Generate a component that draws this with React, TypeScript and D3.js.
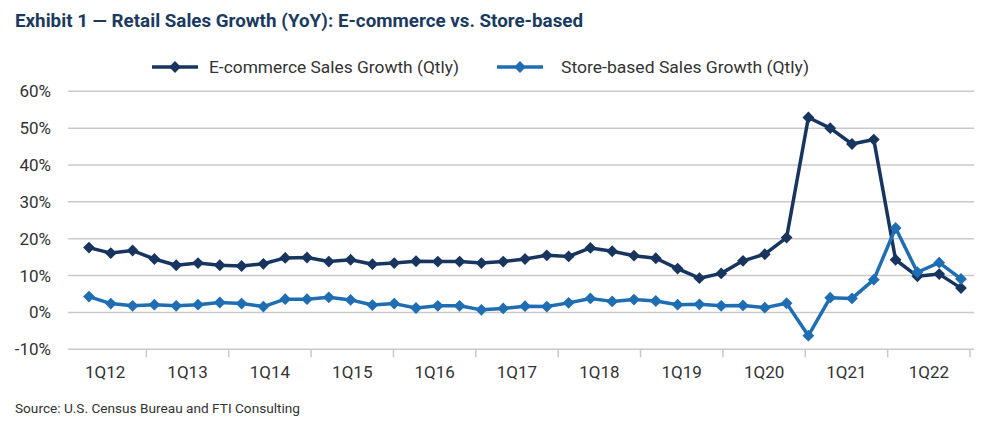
import React from 'react';
import * as d3 from 'd3';

const quarters = [
  '1Q12', '2Q12', '3Q12', '4Q12', '1Q13', '2Q13', '3Q13', '4Q13', '1Q14', '2Q14',
  '3Q14', '4Q14', '1Q15', '2Q15', '3Q15', '4Q15', '1Q16', '2Q16', '3Q16', '4Q16',
  '1Q17', '2Q17', '3Q17', '4Q17', '1Q18', '2Q18', '3Q18', '4Q18', '1Q19', '2Q19',
  '3Q19', '4Q19', '1Q20', '2Q20', '3Q20', '4Q20', '1Q21', '2Q21', '3Q21', '4Q21',
  '1Q22',
];

const ecommerce = [
  17.6, 16.1, 16.8, 14.5, 12.8, 13.4, 12.8, 12.6, 13.2, 14.8,
  14.9, 13.8, 14.3, 13.1, 13.4, 13.9, 13.8, 13.8, 13.4, 13.8,
  14.5, 15.5, 15.2, 17.5, 16.6, 15.4, 14.7, 11.9, 9.3, 10.6,
  14.0, 15.8, 20.3, 52.9, 50.0, 45.7, 46.9, 14.3, 9.8, 10.4,
  6.6,
];

const storeBased = [
  4.3, 2.4, 1.8, 2.1, 1.8, 2.1, 2.7, 2.4, 1.6, 3.6,
  3.6, 4.1, 3.4, 2.0, 2.4, 1.2, 1.8, 1.8, 0.7, 1.1,
  1.7, 1.6, 2.6, 3.8, 3.0, 3.5, 3.1, 2.1, 2.2, 1.8,
  1.9, 1.3, 2.5, -6.3, 4.0, 3.8, 8.9, 22.9, 10.9, 13.5,
  9.1,
];

const yearLabels = ['1Q12', '1Q13', '1Q14', '1Q15', '1Q16', '1Q17', '1Q18', '1Q19', '1Q20', '1Q21', '1Q22'];
const yTicks = [-10, 0, 10, 20, 30, 40, 50, 60];

const seriesNames = ['E-commerce Sales Growth (Qtly)', 'Store-based Sales Growth (Qtly)'];
const seriesColors = ['#17355f', '#1f6db3'];

const FONT = 'Roboto, "Open Sans", sans-serif';

export default function App() {
  const W = 1000;
  const H = 434;
  const gridLeft = 68;
  const gridRight = 974;

  const y = d3.scaleLinear().domain([-10, 60]).range([349.3, 91.3]);
  const xPts = d3.scalePoint<string>().domain(quarters).range([89, 961]);
  const xBand = d3.scaleBand<string>().domain(yearLabels).range([64, 970]).paddingInner(0).paddingOuter(0);

  const line = d3
    .line<number>()
    .x((_, i) => xPts(quarters[i]) as number)
    .y((d) => y(d));

  const diamond = d3.symbol().type(d3.symbolSquare).size(70)();

  const series = [ecommerce, storeBased];

  const legendItems = [
    { x0: 152, x1: 198, tx: 209, len: 250 },
    { x0: 497, x1: 543, tx: 561, len: 248 },
  ];

  return (
    <svg
      width={W}
      height={H}
      style={{ position: 'absolute', left: 0, top: 0, background: '#fff' }}
      fontFamily={FONT}
    >
      <text x={15} y={27} fontSize={18} fontWeight={700} fill="#1b3a60" textLength={568} lengthAdjust="spacingAndGlyphs">
        Exhibit 1 — Retail Sales Growth (YoY): E-commerce vs. Store-based
      </text>

      {legendItems.map((li, i) => (
        <g key={i}>
          <line x1={li.x0} x2={li.x1} y1={67} y2={67} stroke={seriesColors[i]} strokeWidth={3.5} />
          <path d={diamond} transform={`translate(${(li.x0 + li.x1) / 2},67) rotate(45)`} fill={seriesColors[i]} />
          <text x={li.tx} y={73} fontSize={17} fill="#333" textLength={li.len} lengthAdjust="spacingAndGlyphs">
            {seriesNames[i]}
          </text>
        </g>
      ))}

      {yTicks.map((t) => (
        <g key={t}>
          <line x1={gridLeft} x2={gridRight} y1={y(t)} y2={y(t)} stroke="#c9c9c9" strokeWidth={1.5} />
          <text x={51} y={y(t) + 6} fontSize={17} fill="#333" textAnchor="end">
            {t}%
          </text>
        </g>
      ))}

      {yearLabels.map((lab, i) => {
        const bx = xBand(lab) as number;
        return (
          <g key={lab}>
            {i > 0 && (
              <line x1={bx} x2={bx} y1={y(-10)} y2={y(-10) + 8} stroke="#c9c9c9" strokeWidth={1.5} />
            )}
            <text x={bx + xBand.bandwidth() / 2} y={378} fontSize={17} fill="#333" textAnchor="middle">
              {lab}
            </text>
          </g>
        );
      })}
      <line
        x1={xBand.range()[1]}
        x2={xBand.range()[1]}
        y1={y(-10)}
        y2={y(-10) + 8}
        stroke="#c9c9c9"
        strokeWidth={1.5}
      />

      {series.map((s, si) => (
        <g key={si}>
          <path d={line(s) as string} fill="none" stroke={seriesColors[si]} strokeWidth={3.5} strokeLinejoin="round" />
          {s.map((v, i) => (
            <path
              key={i}
              d={diamond}
              transform={`translate(${xPts(quarters[i])},${y(v)}) rotate(45)`}
              fill={seriesColors[si]}
            />
          ))}
        </g>
      ))}

      <text x={15} y={413} fontSize={13.5} fill="#333" textLength={285} lengthAdjust="spacingAndGlyphs">
        Source: U.S. Census Bureau and FTI Consulting
      </text>
    </svg>
  );
}
